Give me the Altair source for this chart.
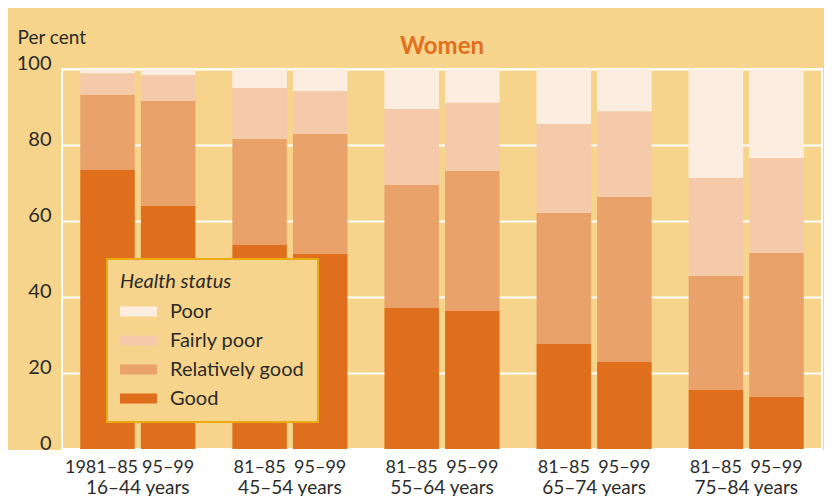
import altair as alt
import pandas as pd

# ---- data ----
groups = ["16–44 years", "45–54 years", "55–64 years", "65–74 years", "75–84 years"]
periods = ["1981–85", "1995–99"]
bar_labels = ["1981–85", "95–99", "81–85", "95–99", "81–85", "95–99", "81–85", "95–99", "81–85", "95–99"]
statuses = ["Poor", "Fairly poor", "Relatively good", "Good"]
good = [73.4, 64.0, 53.7, 51.3, 37.1, 36.3, 27.6, 22.9, 15.5, 13.7]
relatively_good = [19.8, 27.6, 27.9, 31.6, 32.4, 36.9, 34.5, 43.4, 30.0, 37.9]
fairly_poor = [5.7, 6.8, 13.4, 11.3, 20.0, 17.9, 23.4, 22.6, 25.8, 25.0]
poor = [1.1, 1.6, 5.0, 5.8, 10.5, 8.9, 14.5, 11.1, 28.7, 23.4]
y_ticks = [0, 20, 40, 60, 80, 100]

colors = ["#FBEDE0", "#F4CAAB", "#EAA26B", "#DF6F1D"]
TAN = "#F7D48B"
TEXT = "#2b2b2b"
FONT = "Lato"

rows = []
series = {"Good": good, "Relatively good": relatively_good, "Fairly poor": fairly_poor, "Poor": poor}
stack_order = {"Good": 0, "Relatively good": 1, "Fairly poor": 2, "Poor": 3}
for i in range(len(groups) * len(periods)):
    g = groups[i // 2]
    p = periods[i % 2]
    for s, vals in series.items():
        rows.append({"group": g, "period": p, "status": s, "value": vals[i], "ord": stack_order[s]})
df = pd.DataFrame(rows)

lab_df = pd.DataFrame({
    "group": [groups[i // 2] for i in range(10)],
    "period": [periods[i % 2] for i in range(10)],
    "label": bar_labels,
})
grp_df = pd.DataFrame({"group": groups})

W, H = 760, 380

xscale = alt.Scale(domain=groups, paddingInner=0.243, paddingOuter=0.12)
xoff = alt.Scale(domain=periods, paddingInner=0.1, paddingOuter=0)

bars = alt.Chart(df).mark_bar().encode(
    x=alt.X("group:N", scale=xscale, axis=None),
    xOffset=alt.XOffset("period:N", scale=xoff),
    y=alt.Y("value:Q", stack="zero", scale=alt.Scale(domain=[0, 100]),
            axis=alt.Axis(values=y_ticks, grid=True, gridColor="white", gridWidth=2,
                          domain=False, ticks=False, labelFont=FONT, labelFontSize=20,
                          labelColor=TEXT, labelPadding=11, labelBaseline="alphabetic",
                          title="Per cent", titleAngle=0, titleAlign="left",
                          titleBaseline="alphabetic", titleX=-45, titleY=-26,
                          titleFont=FONT, titleFontSize=19, titleFontWeight="normal",
                          titleColor=TEXT)),
    color=alt.Color("status:N", scale=alt.Scale(domain=statuses, range=colors),
                    legend=alt.Legend(orient="none", legendX=45, legendY=190,
                                      title="Health status", titleFont=FONT,
                                      titleFontStyle="italic", titleFontWeight="normal",
                                      titleFontSize=20, titleColor=TEXT,
                                      labelFont=FONT, labelFontSize=20, labelColor=TEXT,
                                      labelOffset=13,
                                      symbolType="M-1,-0.27H1V0.27H-1Z", symbolSize=1369,
                                      symbolStrokeWidth=0, symbolOpacity=1,
                                      fillColor=TAN, strokeColor="#EBAA12",
                                      padding=13, rowPadding=0, titlePadding=1)),
    order=alt.Order("ord:Q"),
)

white_band = alt.Chart(grp_df).mark_rect(color="white").encode(
    x=alt.value(-60), x2=alt.value(W + 20), y=alt.value(H + 1), y2=alt.value(H + 80)
)

period_first = alt.Chart(lab_df).transform_filter(
    alt.datum.label == "1981–85"
).mark_text(
    font=FONT, fontSize=18, color=TEXT, baseline="alphabetic", align="center", dx=-6
).encode(
    x=alt.X("group:N", scale=xscale, axis=None),
    xOffset=alt.XOffset("period:N", scale=xoff),
    y=alt.value(H + 24),
    text="label:N",
)

period_rest = alt.Chart(lab_df).transform_filter(
    alt.datum.label != "1981–85"
).mark_text(
    font=FONT, fontSize=18, color=TEXT, baseline="alphabetic", align="center"
).encode(
    x=alt.X("group:N", scale=xscale, axis=None),
    xOffset=alt.XOffset("period:N", scale=xoff),
    y=alt.value(H + 24),
    text="label:N",
)

group_text = alt.Chart(grp_df).mark_text(
    font=FONT, fontSize=19, color=TEXT, baseline="alphabetic", align="center"
).encode(
    x=alt.X("group:N", scale=xscale, axis=None),
    y=alt.value(H + 45),
    text="group:N",
)

chart = alt.layer(bars, white_band, period_first, period_rest, group_text).properties(
    width=W, height=H,
    title=alt.TitleParams("Women", font=FONT, fontSize=24, fontWeight="bold",
                          color="#E0701E", anchor="middle", dy=35),
    autosize=alt.AutoSizeParams(type="none"),
    padding={"left": 54, "top": 61, "right": 2, "bottom": 47},
    background=TAN,
).configure_view(
    fill=TAN, stroke="white", strokeWidth=2
).configure_legend(strokeWidth=2)

chart.save("out.html", embed_options={"renderer": "svg", "actions": False})
